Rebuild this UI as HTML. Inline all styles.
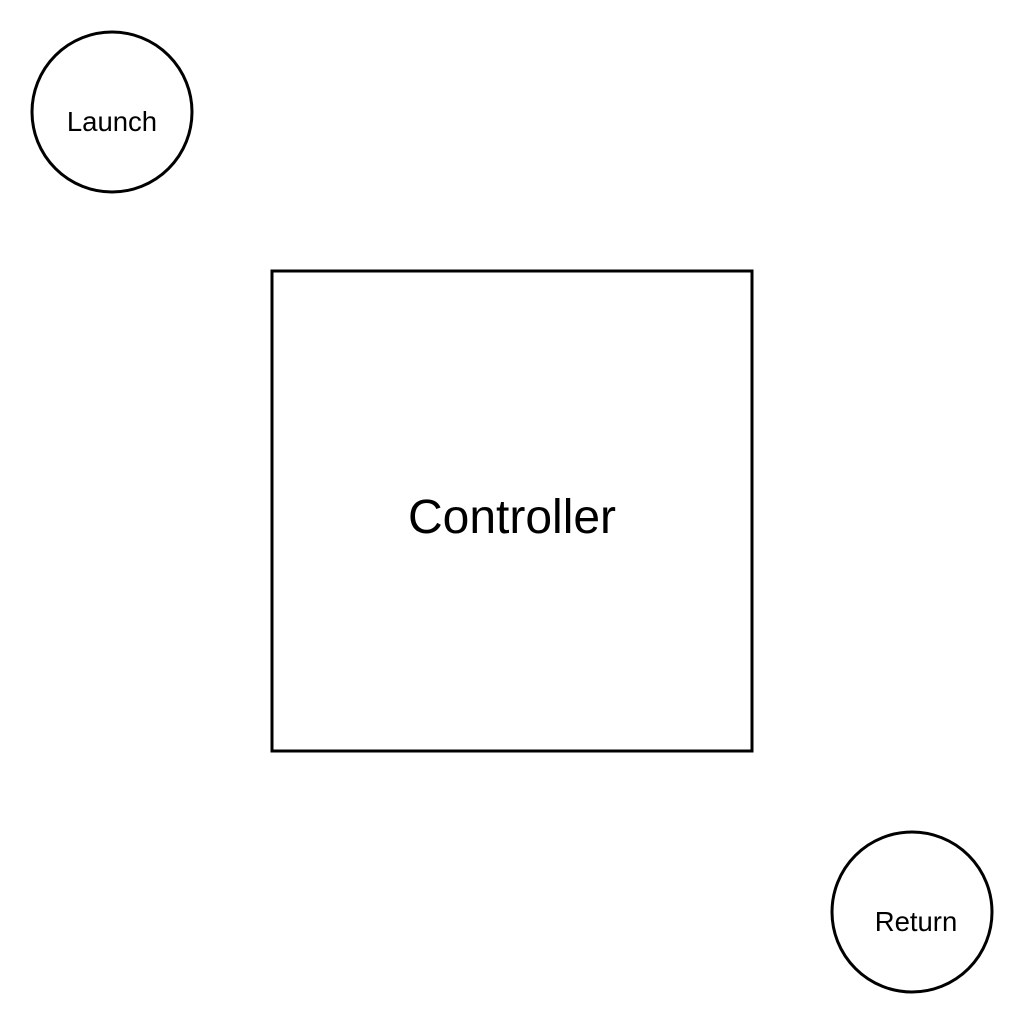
<!DOCTYPE html>
<html><head><style>html,body{margin:0;padding:0;background:#fff;}</style></head>
<body>
<svg width="1018" height="1032" viewBox="0 0 1018 1032" xmlns="http://www.w3.org/2000/svg" style="display:block">
<rect width="1018" height="1032" fill="#fff"/>
<circle cx="112" cy="112" r="80" fill="none" stroke="#000" stroke-width="3"/>
<text x="112" y="131" font-family="Liberation Sans, sans-serif" font-size="27.5" text-anchor="middle">Launch</text>
<rect x="272" y="271" width="480" height="480" fill="none" stroke="#000" stroke-width="3"/>
<text x="512" y="533" font-family="Liberation Sans, sans-serif" font-size="48" text-anchor="middle">Controller</text>
<circle cx="912" cy="912" r="80" fill="none" stroke="#000" stroke-width="3"/>
<text x="916" y="931" font-family="Liberation Sans, sans-serif" font-size="27.5" text-anchor="middle">Return</text>
</svg>
</body></html>
